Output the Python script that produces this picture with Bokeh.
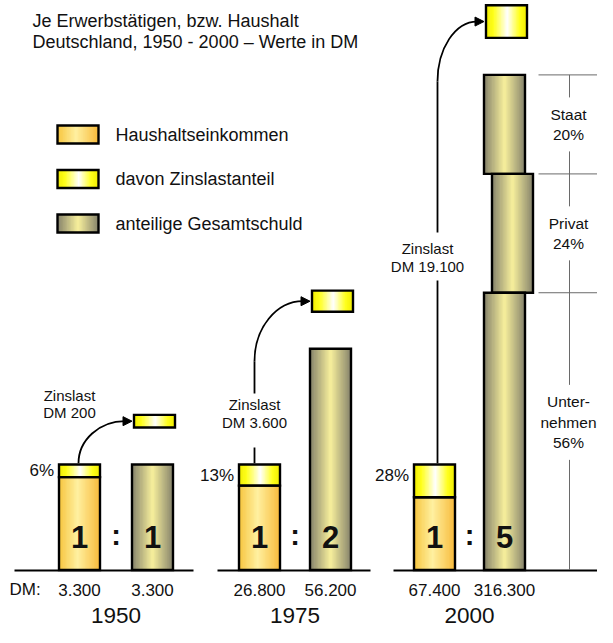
from bokeh.plotting import figure
from bokeh.models import Range1d, ColumnDataSource, Arrow, NormalHead
from bokeh.core.properties import value
from bokeh.embed import file_html
from bokeh.resources import INLINE

# ---------------- data ----------------
jahre = ["1950", "1975", "2000"]
einkommen = [3300, 26800, 67400]          # Haushaltseinkommen, DM
gesamtschuld = [3300, 56200, 316300]      # anteilige Gesamtschuld, DM
zinslast = [200, 3600, 19100]             # Zinslast, DM
zins_prozent = [6, 13, 28]                # Zinslastanteil in %
zins_segment_anteil = [0.12, 0.20, 0.31]  # drawn height of interest segment (share of income bar)
sektoren = [["Staat"], ["Privat"], ["Unter-", "nehmen"]]
sektor_anteile = [20, 24, 56]             # share of total debt 2000, %
legende = ["Haushaltseinkommen", "davon Zinslastanteil", "anteilige Gesamtschuld"]
titel = ["Je Erwerbstätigen, bzw. Haushalt", "Deutschland, 1950 - 2000 – Werte in DM"]


def dm(v):
    return f"{v:,}".replace(",", ".")


# ---------------- styles / layout ----------------
FONT = value("Liberation Sans")
TXT = "#111111"
GRAD_INC = [(0.0, "#F7C53E"), (0.45, "#FFF0A0"), (1.0, "#F8BA3A")]
GRAD_ZINS = [(0.0, "#F0EC00"), (0.18, "#FFFF1A"), (0.52, "#FFFFFF"), (0.82, "#FFFF1A"), (1.0, "#F0EC00")]
GRAD_DEBT = [(0.0, "#85826B"), (0.5, "#F8F09C"), (1.0, "#85826B")]

p = figure(width=597, height=627, x_range=Range1d(0, 597), y_range=Range1d(627, 0),
           output_backend="svg", toolbar_location=None, min_border=0,
           x_axis_location=None, y_axis_location=None, outline_line_color=None)
p.grid.visible = False
p.background_fill_color = "white"
p.border_fill_color = "white"

BASE = 569.5
UNIT = 105.5
BW = 41
LW = 2.4
inc_cx = [79, 259, 434]
debt_cx = [152, 330, 504]
base_ext = [(14, 193), (217, 370), (393, 597)]
line_dx = [-1, -5, 3]
anno_x_dx = [-10, -5, -7]
anno_y = [403.5, 413, 257]
line_gap = [None, (393, 447), (232, 280)]
seg_dx = [0, 8, 0]
GAP_BOX = 37
DIM_X = 569
TEXT_X = 568


def hex2rgb(h):
    return tuple(int(h[k:k + 2], 16) for k in (1, 3, 5))


def interp(stops, t):
    for (p0, c0), (p1, c1) in zip(stops[:-1], stops[1:]):
        if p0 <= t <= p1:
            f = (t - p0) / (p1 - p0) if p1 > p0 else 0
            a, b = hex2rgb(c0), hex2rgb(c1)
            return "#%02x%02x%02x" % tuple(int(round(a[k] + (b[k] - a[k]) * f)) for k in range(3))
    return stops[-1][1]


strips = dict(l=[], r=[], t=[], b=[], c=[])
outl = dict(l=[], r=[], t=[], b=[])


def grad_box(l, r, t, b, stops, n=30):
    w = (r - l) / n
    for k in range(n):
        strips["l"].append(l + k * w)
        strips["r"].append(min(r, l + (k + 1) * w + 0.7))
        strips["t"].append(t)
        strips["b"].append(b)
        strips["c"].append(interp(stops, (k + 0.5) / n))
    outl["l"].append(l)
    outl["r"].append(r)
    outl["t"].append(t)
    outl["b"].append(b)


texts = dict(x=[], y=[], s=[], size=[], align=[], style=[])


def txt(x, y, s, size="17px", align="center", style="normal"):
    texts["x"].append(x)
    texts["y"].append(y)
    texts["s"].append(s)
    texts["size"].append(size)
    texts["align"].append(align)
    texts["style"].append(style)


curves = []
lines = dict(x0=[], y0=[], x1=[], y1=[])
dim = dict(x0=[], y0=[], x1=[], y1=[])
arrows = []

# title
txt(32, 20, titel[0], "18px", "left")
txt(32, 41, titel[1], "18px", "left")

# legend
leg_grads = [GRAD_INC, GRAD_ZINS, GRAD_DEBT]
for k, lab in enumerate(legende):
    cy = 134 + k * 44.5
    grad_box(57, 98, cy - 9, cy + 9, leg_grads[k])
    txt(115, cy, lab, "18px", "left")

# panels
for i in range(3):
    top_inc = BASE - UNIT
    zh = UNIT * zins_segment_anteil[i]
    il, ir = inc_cx[i] - BW / 2, inc_cx[i] + BW / 2
    grad_box(il, ir, top_inc + zh, BASE, GRAD_INC)
    grad_box(il, ir, top_inc, top_inc + zh, GRAD_ZINS)

    ratio = gesamtschuld[i] / einkommen[i]
    dh = UNIT * ratio
    debt_top = BASE - dh
    dl, dr = debt_cx[i] - BW / 2, debt_cx[i] + BW / 2
    if i == 2:
        y = debt_top
        bounds = [y]
        for k, share in enumerate(sektor_anteile):
            h = dh * share / 100
            grad_box(dl + seg_dx[k], dr + seg_dx[k], y, y + h, GRAD_DEBT)
            y += h
            bounds.append(y)
        # dimension lines at the right
        for bnd in bounds[:-1]:
            dim["x0"].append(538); dim["y0"].append(bnd)
            dim["x1"].append(597); dim["y1"].append(bnd)
        vsegs = []
        prev = bounds[0]
        offs = [0, 0, -9]
        for k, names in enumerate(sektoren):
            rows = names + [f"{sektor_anteile[k]}%"]
            n = len(rows)
            mid = (bounds[k] + bounds[k + 1]) / 2 + offs[k]
            step = 20.5
            y0 = mid - step * (n - 1) / 2
            for r, s in enumerate(rows):
                txt(TEXT_X, y0 + r * step, s, "15.5px")
            half = n * 10.5 + 6
            vsegs.append((prev, mid - half))
            prev = mid + half
        vsegs.append((prev, BASE))
        for a, b in vsegs:
            dim["x0"].append(DIM_X); dim["y0"].append(a)
            dim["x1"].append(DIM_X); dim["y1"].append(b)
    else:
        grad_box(dl, dr, debt_top, BASE, GRAD_DEBT)

    # floating interest box
    bl, br = dl + 2, dr + 2
    bb = debt_top - GAP_BOX
    bt = bb - zh
    grad_box(bl, br, bt, bb, GRAD_ZINS)

    # baseline
    lines["x0"].append(base_ext[i][0]); lines["y0"].append(BASE + 0.5)
    lines["x1"].append(base_ext[i][1]); lines["y1"].append(BASE + 0.5)

    # arrow
    lx = inc_cx[i] + line_dx[i]
    cy = (bt + bb) / 2
    tip = bl - 2
    ex = tip - 7
    if line_gap[i] is None:
        sy = top_inc - LW / 2
    else:
        lines["x0"].append(lx); lines["y0"].append(top_inc - LW / 2)
        lines["x1"].append(lx); lines["y1"].append(line_gap[i][1])
        sy = line_gap[i][0]
    R = min(sy - cy, 60)
    if sy - cy > R:
        lines["x0"].append(lx); lines["y0"].append(sy)
        lines["x1"].append(lx); lines["y1"].append(cy + R)
    k = 0.552
    curves.append((lx, cy + R, ex, cy, lx, cy + R - k * R, ex - k * (ex - lx), cy))
    arrows.append((ex - 1, cy, tip, cy))

    # annotation text
    ax = inc_cx[i] + anno_x_dx[i]
    txt(ax, anno_y[i] - 8.75, "Zinslast", "15px")
    txt(ax, anno_y[i] + 8.75, "DM " + dm(zinslast[i]), "15px")

    # percent label
    txt(il - 5, top_inc + min(zh / 2, 11), f"{zins_prozent[i]}%", "17px", "right")

    # ratio digits
    txt(inc_cx[i], 536, str(round(einkommen[i] / einkommen[i])), "31px", "center", "bold")
    txt(debt_cx[i], 536, str(round(ratio)), "31px", "center", "bold")
    txt((inc_cx[i] + debt_cx[i]) / 2, 534, ":", "29px", "center", "bold")

    # values
    txt(inc_cx[i], 589, dm(einkommen[i]), "17px")
    txt(debt_cx[i], 589, dm(gesamtschuld[i]), "17px")

    # year
    txt((inc_cx[i] + debt_cx[i]) / 2, 614.5, jahre[i], "22.5px")

txt(9, 589, "DM:", "17px", "left")

# ---------------- draw ----------------
p.quad(left="l", right="r", top="t", bottom="b", fill_color="c", line_color=None,
       source=ColumnDataSource(strips))
p.quad(left="l", right="r", top="t", bottom="b", fill_color=None, line_color="black",
       line_width=LW, line_join="miter", source=ColumnDataSource(outl))

p.segment(x0="x0", y0="y0", x1="x1", y1="y1", source=ColumnDataSource(lines),
          line_color="black", line_width=1.8)
p.segment(x0="x0", y0="y0", x1="x1", y1="y1", source=ColumnDataSource(dim),
          line_color="#6a6a6a", line_width=1)

for c in curves:
    p.bezier(x0=c[0], y0=c[1], x1=c[2], y1=c[3], cx0=c[4], cy0=c[5], cx1=c[6], cy1=c[7],
             line_color="black", line_width=1.8)
for a in arrows:
    p.add_layout(Arrow(x_start=a[0], y_start=a[1], x_end=a[2], y_end=a[3], line_width=1.8,
                       end=NormalHead(size=9, fill_color="black", line_color="black", line_width=1)))

for style in ("normal", "bold"):
    for align in ("left", "center", "right"):
        idx = [j for j in range(len(texts["s"])) if texts["style"][j] == style and texts["align"][j] == align]
        if not idx:
            continue
        src = ColumnDataSource(dict(x=[texts["x"][j] for j in idx], y=[texts["y"][j] for j in idx],
                                    s=[texts["s"][j] for j in idx], size=[texts["size"][j] for j in idx]))
        p.text(x="x", y="y", text="s", text_font_size="size", source=src, text_font=FONT,
               text_font_style=style, text_align=align, text_baseline="middle", text_color=TXT)

open("out.html", "w").write(file_html(p, INLINE))
